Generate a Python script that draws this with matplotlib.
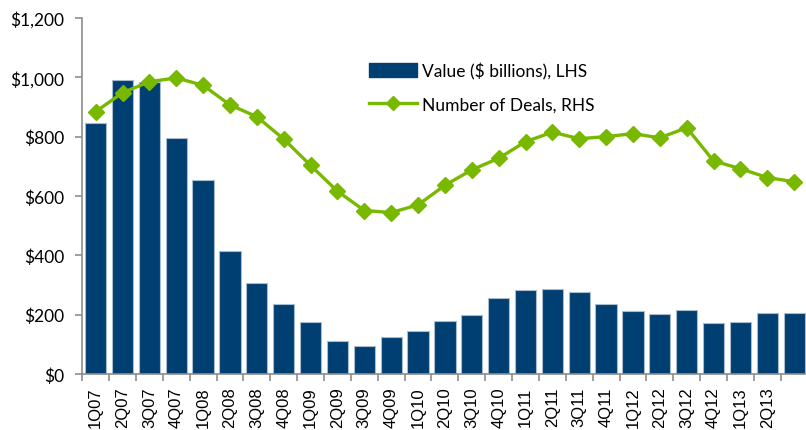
import matplotlib.pyplot as plt
import numpy as np
from matplotlib.lines import Line2D
from matplotlib.patches import Patch

# quarterly M&A activity, 1Q07 - 3Q13
quarters = ['1Q07', '2Q07', '3Q07', '4Q07', '1Q08', '2Q08', '3Q08', '4Q08',
            '1Q09', '2Q09', '3Q09', '4Q09', '1Q10', '2Q10', '3Q10', '4Q10',
            '1Q11', '2Q11', '3Q11', '4Q11', '1Q12', '2Q12', '3Q12', '4Q12',
            '1Q13', '2Q13', '3Q13']
value_bn = [847, 990, 985, 796, 654, 413, 308, 236, 174, 110, 93, 126, 144,
            179, 200, 255, 282, 286, 276, 237, 213, 203, 215, 171, 175, 207, 204]
num_deals = [884, 948, 985, 998, 973, 907, 867, 792, 703, 616, 551, 544, 570,
             636, 688, 727, 783, 815, 793, 800, 810, 796, 830, 718, 692, 662, 648]
# last quarter carries no axis label
tick_labels = quarters[:-1] + ['']

navy = '#003f72'
green = '#78b800'
grey = '#8c8c8c'

fig = plt.figure(figsize=(8.06, 4.31), dpi=100)
ax = fig.add_axes([0.102, 0.13, 0.9, 0.826])
x = np.arange(len(quarters))

ax.bar(x, value_bn, width=0.79, color=navy, edgecolor='#a9bccf', linewidth=0.8, zorder=2)
ax.set_xlim(-0.5, len(quarters) - 0.5)
ax.set_ylim(0, 1200)
ax.set_yticks(range(0, 1201, 200))
ax.set_yticklabels(['${:,}'.format(v) for v in range(0, 1201, 200)],
                   family='Lato', fontsize=12.5)

ax.set_xticks(x)
ax.set_xticklabels(tick_labels, rotation=90, family='Liberation Sans', fontsize=12)
ax.set_xticks(np.arange(len(quarters) + 1) - 0.5, minor=True)
ax.tick_params(axis='x', which='major', length=0, pad=9)
ax.tick_params(axis='x', which='minor', length=5, color=grey, width=1.2)
ax.tick_params(axis='y', length=5, color=grey, width=1.2, pad=8)

for s in ['top', 'right']:
    ax.spines[s].set_visible(False)
for s in ['left', 'bottom']:
    ax.spines[s].set_color(grey)
    ax.spines[s].set_linewidth(1.2)

# deals on a hidden right-hand scale
ax2 = ax.twinx()
ax2.set_ylim(0, 1200)
ax2.plot(x, num_deals, color=green, linewidth=2.4, marker='D', markersize=8,
         markerfacecolor=green, markeredgecolor=green, zorder=3)
ax2.axis('off')

handles = [Patch(facecolor=navy, edgecolor=navy),
           Line2D([], [], color=green, linewidth=2.4, marker='D', markersize=7)]
leg = fig.legend(handles, ['Value ($ billions), LHS', 'Number of Deals, RHS'],
                 loc='upper left', bbox_to_anchor=(0.438, 0.89), frameon=False,
                 prop={'family': 'Lato', 'size': 12.5}, handlelength=2.8,
                 handleheight=0.8, labelspacing=1.0, handletextpad=0.3)

plt.savefig('out.png', dpi=100)
